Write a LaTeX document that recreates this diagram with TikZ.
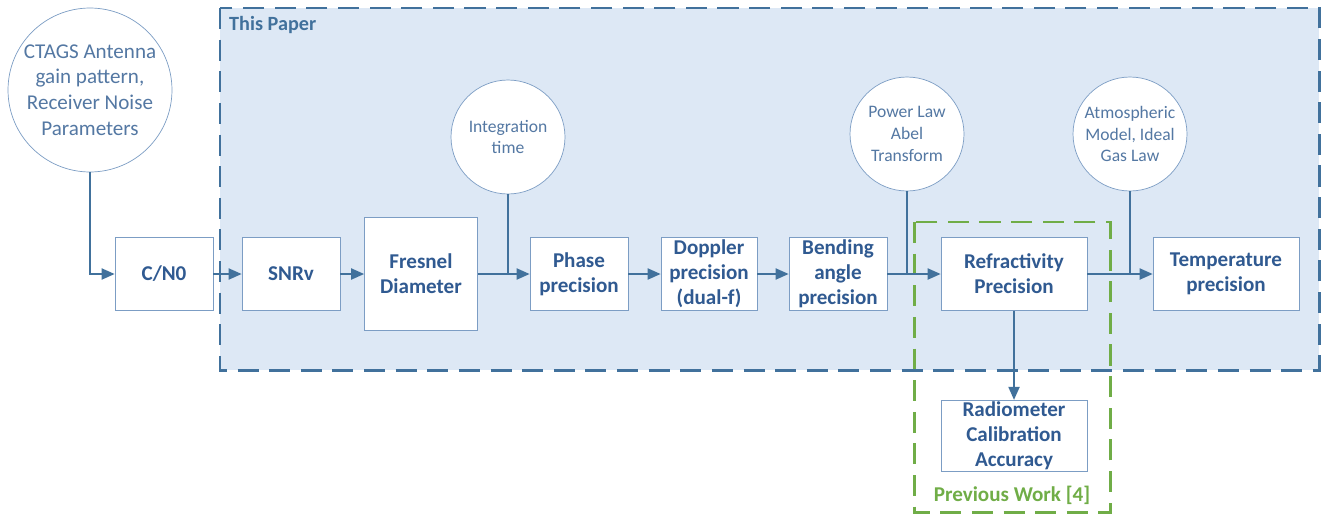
\documentclass[tikz,border=0pt]{standalone}
\usepackage{fontspec}
\setmainfont{Carlito}
\usetikzlibrary{arrows.meta}
\definecolor{flowline}{RGB}{65,113,156}
\definecolor{boxline}{RGB}{124,157,196}
\definecolor{boxtext}{RGB}{48,90,145}
\definecolor{circtext}{RGB}{84,120,163}
\definecolor{paperfill}{RGB}{221,232,245}
\definecolor{prevgreen}{RGB}{112,173,71}
\tikzset{
  procbox/.style   = {shape=rectangle, draw=boxline, fill=white, align=center,
                      text=boxtext, font=\bfseries\fontsize{12}{14.2}\selectfont,
                      minimum width=1.96cm, minimum height=1.46cm, inner sep=1pt},
  widebox/.style   = {procbox, minimum width=2.92cm},
  inputnode/.style = {shape=circle, draw=boxline, fill=white, align=center,
                      text=circtext, font=\fontsize{10}{12.3}\selectfont,
                      minimum size=2.28cm, inner sep=0pt},
  flow/.style      = {draw=flowline, line width=1.1pt, -{Triangle[length=2.6mm,width=2.2mm]}},
  feedline/.style  = {draw=flowline, line width=1.1pt},
  frame/.style     = {line width=1.7pt, dash pattern=on 12pt off 6pt}
}

\begin{document}
\begin{tikzpicture}[x=0.02cm, y=-0.02cm]
  \useasboundingbox (0,0) rectangle (1327,514);
  % regions
  \fill[paperfill] (220,8) rectangle (1319,370);
  \draw[frame, prevgreen] (914,222) rectangle (1110,512);
  \draw[frame, flowline] (220,8) rectangle (1319,370);
  \node [anchor=west, text=flowline, font=\bfseries\fontsize{11.5}{13}\selectfont] (paperlbl) at (223,25) {This Paper};
  \node [text=prevgreen, font=\bfseries\fontsize{12}{14}\selectfont] (prevlbl) at (1012,495) {Previous Work [4]};

  % inputs
  \node [inputnode, minimum size=3.28cm, font=\fontsize{12}{14.7}\selectfont] (ctags) at (90,90)
        {CTAGS Antenna\\gain pattern,\\Receiver Noise\\Parameters};
  \node [inputnode] (inttime)  at (508,137) {Integration\\time};
  \node [inputnode] (powerlaw) at (907,134) {Power Law\\Abel\\Transform};
  \node [inputnode] (atmos)    at (1130,134) {Atmospheric\\Model, Ideal\\Gas Law};

  % chain
  \node [procbox] (cn0)     at (164,274) {C/N0};
  \node [procbox] (snrv)    at (291,274) {SNRv};
  \node [procbox, minimum width=2.26cm, minimum height=2.26cm] (fresnel) at (421,274) {Fresnel\\Diameter};
  \node [procbox] (phase)   at (579,274) {Phase\\precision};
  \node [procbox, minimum width=1.92cm] (doppler) at (709,274) {Doppler\\precision\\(dual-f)};
  \node [procbox] (bending) at (838,274) {Bending\\angle\\precision};
  \node [widebox] (refrac)  at (1014,274) {Refractivity\\Precision};
  \node [widebox] (temp)    at (1226,274) {Temperature\\precision};
  \node [widebox, minimum height=1.42cm] (radio) at (1014,436) {Radiometer\\Calibration\\Accuracy};

  % connectors
  \draw [flow] (ctags.south) |- (cn0.west);
  \draw [flow] (cn0) -- (snrv);
  \draw [flow] (snrv) -- (fresnel);
  \draw [flow] (fresnel) -- (phase);
  \draw [feedline] (inttime.south) -- (inttime.south |- fresnel.east);
  \draw [flow] (phase) -- (doppler);
  \draw [flow] (doppler) -- (bending);
  \draw [flow] (bending) -- (refrac);
  \draw [feedline] (powerlaw.south) -- (powerlaw.south |- bending.east);
  \draw [flow] (refrac) -- (temp);
  \draw [feedline] (atmos.south) -- (atmos.south |- refrac.east);
  \draw [flow] (refrac) -- (radio);
\end{tikzpicture}
\end{document}
